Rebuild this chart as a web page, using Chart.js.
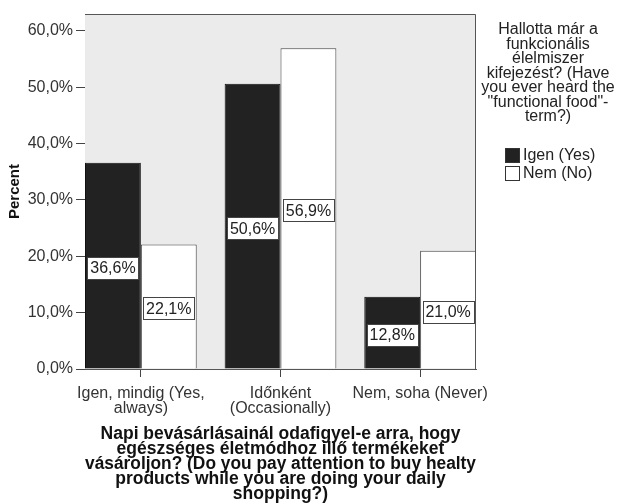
<!DOCTYPE html>
<html>
<head>
<meta charset="utf-8">
<script src="https://cdn.jsdelivr.net/npm/chart.js@4/dist/chart.umd.min.js"></script>
<style>
  html, body { margin: 0; padding: 0; background: #ffffff; }
  #wrap { width: 617px; height: 504px; }
</style>
</head>
<body>
<div id="wrap"><canvas id="c" width="617" height="504"></canvas></div>
<script>
// Answer categories (x axis), one entry per line of the label
const categories = [
  ['Igen, mindig (Yes,', 'always)'],
  ['Időnként', '(Occasionally)'],
  ['Nem, soha (Never)']
];
const categoryPositions = [1, 2, 3];

// Series: have you heard the term "functional food"?
const seriesNames = ['Igen (Yes)', 'Nem (No)'];
const yesValues = [36.6, 50.6, 12.8];
const noValues = [22.1, 56.9, 21.0];

const yTicks = [0, 10, 20, 30, 40, 50, 60];

const xTitle = [
  'Napi bevásárlásainál odafigyel-e arra, hogy',
  'egészséges életmódhoz illő termékeket',
  'vásároljon? (Do you pay attention to buy healty',
  'products while you are doing your daily',
  'shopping?)'
];
const legendTitle = [
  'Hallotta már a',
  'funkcionális',
  'élelmiszer',
  'kifejezést? (Have',
  'you ever heard the',
  '"functional food"-',
  'term?)'
];

const FONT = '"Liberation Sans", Arial, sans-serif';
const fmt = v => v.toFixed(1).replace('.', ',') + '%';

// Grey plot panel with a frame on top and right
const panelPlugin = {
  id: 'panel',
  beforeDatasetsDraw(chart) {
    const { ctx, chartArea: a } = chart;
    ctx.save();
    ctx.fillStyle = '#ebebeb';
    ctx.fillRect(a.left, a.top, a.right - a.left, a.bottom - a.top);
    ctx.restore();
  },
  afterDraw(chart) {
    const { ctx, chartArea: a } = chart;
    ctx.save();
    ctx.strokeStyle = '#555555';
    ctx.lineWidth = 1;
    ctx.beginPath();
    ctx.moveTo(a.left, a.top + 0.5);
    ctx.lineTo(a.right - 0.5, a.top + 0.5);
    ctx.lineTo(a.right - 0.5, a.bottom);
    ctx.stroke();
    ctx.restore();
  }
};

// Boxed value labels in the middle of each bar
const valueLabelPlugin = {
  id: 'valueLabels',
  afterDatasetsDraw(chart) {
    const { ctx } = chart;
    ctx.save();
    ctx.font = '16px ' + FONT;
    ctx.textAlign = 'center';
    ctx.textBaseline = 'middle';
    chart.data.datasets.forEach((ds, di) => {
      const meta = chart.getDatasetMeta(di);
      meta.data.forEach((bar, i) => {
        const v = ds.data[i].y;
        const text = fmt(v);
        const w = Math.round(ctx.measureText(text).width + 6);
        const h = 22;
        const cx = bar.x;
        const cy = (bar.y + bar.base) / 2 + 2;
        const x0 = Math.round(cx - w / 2) + 0.5;
        const y0 = Math.round(cy - h / 2) + 0.5;
        ctx.fillStyle = '#ffffff';
        ctx.fillRect(x0, y0, w, h);
        ctx.strokeStyle = '#444444';
        ctx.lineWidth = 1;
        ctx.strokeRect(x0, y0, w, h);
        ctx.fillStyle = '#222222';
        ctx.fillText(text, cx, cy + 1);
      });
    });
    ctx.restore();
  }
};

// Legend on the right: wrapped title and one swatch per series
const sideLegendPlugin = {
  id: 'sideLegend',
  afterDraw(chart) {
    const { ctx } = chart;
    const cx = 548;
    ctx.save();
    ctx.font = '16px ' + FONT;
    ctx.fillStyle = '#222222';
    ctx.textAlign = 'center';
    ctx.textBaseline = 'middle';
    legendTitle.forEach((line, i) => {
      ctx.fillText(line, cx, 30 + i * 14.5);
    });
    ctx.textAlign = 'left';
    chart.data.datasets.forEach((ds, i) => {
      const y = 148 + i * 18;
      ctx.fillStyle = ds.backgroundColor;
      ctx.fillRect(505, y, 15, 15);
      ctx.strokeStyle = '#333333';
      ctx.lineWidth = 1;
      ctx.strokeRect(505.5, y + 0.5, 14, 14);
      ctx.fillStyle = '#222222';
      ctx.fillText(ds.label, 523, y + 8);
    });
    ctx.restore();
  }
};

const toPoints = vals => vals.map((v, i) => ({ x: categoryPositions[i], y: v }));

new Chart(document.getElementById('c'), {
  type: 'bar',
  data: {
    datasets: [
      {
        label: seriesNames[0],
        data: toPoints(yesValues),
        backgroundColor: '#222222',
        borderColor: '#111111',
        borderWidth: 1,
        categoryPercentage: 0.8,
        barPercentage: 1.0
      },
      {
        label: seriesNames[1],
        data: toPoints(noValues),
        backgroundColor: '#ffffff',
        borderColor: '#444444',
        borderWidth: 1,
        categoryPercentage: 0.8,
        barPercentage: 1.0
      }
    ]
  },
  options: {
    responsive: false,
    devicePixelRatio: 1,
    animation: false,
    layout: { padding: { top: 14, right: 141, left: 0, bottom: 0 } },
    plugins: {
      legend: { display: false },
      tooltip: { enabled: false }
    },
    scales: {
      x: {
        type: 'linear',
        offset: false,
        min: 0.6,
        max: 3.4,
        afterBuildTicks(scale) {
          scale.ticks = categoryPositions.map(v => ({ value: v }));
        },
        afterFit(scale) { scale.height = 135; },
        grid: {
          display: true,
          offset: false,
          drawOnChartArea: false,
          drawTicks: true,
          tickLength: 8,
          color: '#444444',
          lineWidth: 1
        },
        border: { display: true, color: '#555555', width: 1 },
        ticks: {
          autoSkip: false,
          maxRotation: 0,
          padding: 9,
          color: '#333333',
          font: { family: FONT, size: 16, lineHeight: 0.95 },
          callback: v => categories[categoryPositions.indexOf(v)]
        },
        title: {
          display: true,
          text: xTitle,
          color: '#111111',
          font: { family: FONT, size: 17.5, weight: 'bold', lineHeight: 0.86 },
          padding: { top: 0, bottom: 2.5 }
        }
      },
      y: {
        min: 0,
        max: 63,
        afterBuildTicks(scale) {
          scale.ticks = yTicks.map(v => ({ value: v }));
        },
        afterFit(scale) { scale.width = 85; },
        grid: {
          display: true,
          drawOnChartArea: false,
          drawTicks: true,
          tickLength: 9,
          color: '#444444',
          lineWidth: 1
        },
        border: { display: true, color: '#555555', width: 1 },
        ticks: {
          padding: 3,
          color: '#333333',
          font: { family: FONT, size: 16 },
          callback: v => fmt(v)
        },
        title: {
          display: true,
          text: 'Percent',
          color: '#111111',
          font: { family: FONT, size: 15, weight: 'bold' },
          padding: { top: 6, bottom: 0 }
        }
      }
    }
  },
  plugins: [panelPlugin, valueLabelPlugin, sideLegendPlugin]
});
</script>
</body>
</html>
